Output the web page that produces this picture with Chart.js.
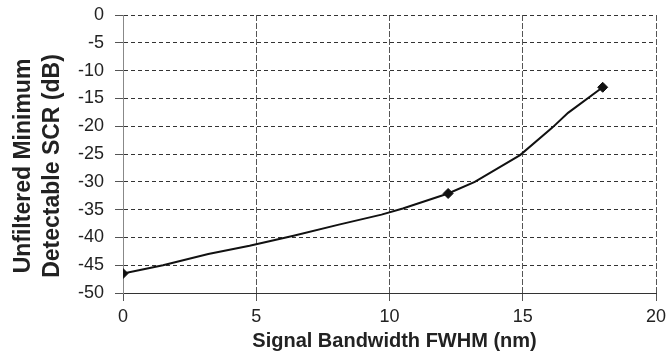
<!DOCTYPE html>
<html>
<head>
<meta charset="utf-8">
<script src="https://cdn.jsdelivr.net/npm/chart.js@4"></script>
<style>
  html, body { margin: 0; padding: 0; background: #fff; }
  #wrap { width: 670px; height: 352px; }
</style>
</head>
<body>
<div id="wrap"><canvas id="scrChart" width="670" height="352"></canvas></div>
<script>
// curve
const curveX = [0, 1.5, 3.2, 4.75, 6.4, 8.1, 9.7, 10.5, 12.2, 13.2, 14.9, 16.1, 16.7, 18];
const curveY = [-46.5, -45, -43, -41.5, -39.7, -37.7, -35.9, -34.8, -32.1, -30, -25.2, -20.3, -17.6, -13];
// measured points (diamonds)
const markerX = [0, 12.2, 18];
const markerY = [-46.5, -32.1, -13];

const xTitle = "Signal Bandwidth FWHM (nm)";
const yTitle = ["Unfiltered Minimum", "Detectable SCR (dB)"];

const FONT = "'Liberation Sans', Arial, sans-serif";

const gridStyle = {
  color: "#555",
  lineWidth: 1,
  tickLength: 8,
  tickColor: "#555"
};

// axis titles sit a little off the plot centre in the original, so draw them here
const axisTitles = {
  id: "axisTitles",
  afterDraw(chart) {
    const ctx = chart.ctx;
    const area = chart.chartArea;
    ctx.save();
    ctx.fillStyle = "#222";
    ctx.textAlign = "center";
    ctx.textBaseline = "middle";

    ctx.font = "bold 20px " + FONT;
    ctx.fillText(xTitle, (area.left + area.right) / 2 + 5, 341);

    ctx.translate(24, (area.top + area.bottom + 24) / 2);
    ctx.rotate(-Math.PI / 2);
    ctx.font = "bold 23px " + FONT;
    yTitle.forEach((line, i) => ctx.fillText(line, 0, i * 29));
    ctx.restore();
  }
};

new Chart(document.getElementById("scrChart"), {
  type: "scatter",
  data: {
    datasets: [
      {
        data: curveX.map((x, i) => ({ x, y: curveY[i] })),
        showLine: true,
        borderColor: "#111",
        borderWidth: 2,
        pointRadius: 0,
        tension: 0
      },
      {
        data: markerX.map((x, i) => ({ x, y: markerY[i] })),
        showLine: false,
        pointStyle: "rectRot",
        pointRadius: 5,
        backgroundColor: "#111",
        borderColor: "#111"
      }
    ]
  },
  options: {
    responsive: false,
    animation: false,
    layout: { autoPadding: false, padding: { left: 4, right: 14, top: 15, bottom: 0 } },
    plugins: { legend: { display: false }, tooltip: { enabled: false } },
    scales: {
      x: {
        min: 0, max: 20,
        ticks: { stepSize: 5, color: "#222", font: { family: FONT, size: 18 }, padding: 5 },
        grid: gridStyle,
        border: { display: true, color: "#333", dash: [6, 2] },
        afterFit: s => { s.height = 59; s.paddingRight = 0; }
      },
      y: {
        min: -50, max: 0,
        ticks: { stepSize: 5, color: "#222", font: { family: FONT, size: 18, lineHeight: 1 }, padding: 11 },
        grid: { ...gridStyle, color: "#333" },
        border: { display: true, color: "#888", dash: [4, 3] },
        afterFit: s => { s.width = 119; s.paddingTop = 0; s.paddingBottom = 0; }
      }
    }
  },
  plugins: [axisTitles]
});
</script>
</body>
</html>
